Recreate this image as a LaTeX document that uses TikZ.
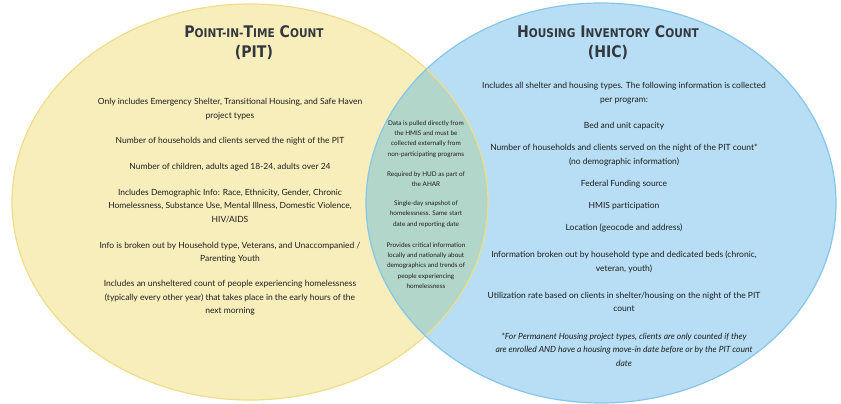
\documentclass[tikz,border=0pt]{standalone}
\usepackage{fontspec}
\setmainfont{Lato}
\newfontfamily\titlefont{DejaVu Sans}[FakeStretch=0.88]
\definecolor{yfill}{HTML}{F8EEBC}
\definecolor{yline}{HTML}{EFDD8A}
\definecolor{bfill}{HTML}{B7DEF4}
\definecolor{bline}{HTML}{86C6EA}
\definecolor{gfill}{HTML}{B3D6CA}
\definecolor{txt}{HTML}{1E1E1E}
\definecolor{ttl}{HTML}{33373F}
\newcommand\tcap[2]{{\fontsize{16}{20}\selectfont #1}{\fontsize{12}{20}\selectfont #2}}
\tikzset{
  ttlbox/.style={align=center, text=ttl, font=\titlefont\bfseries\fontsize{16}{20}\selectfont, inner sep=0pt},
  body/.style={align=center, text=txt, font=\fontsize{8.5}{13.5}\selectfont, inner sep=0pt},
  mid/.style={align=center, text=txt, font=\fontsize{6.4}{10.3}\selectfont, inner sep=0pt}
}
\begin{document}
\begin{tikzpicture}[x=1pt,y=-1pt]
\useasboundingbox (0,0) rectangle (841,404);
\fill[white] (0,0) rectangle (841,404);
% circles
\fill[yfill] (250,202) ellipse [x radius=238pt, y radius=198pt];
\fill[bfill] (601,203) ellipse [x radius=235pt, y radius=200pt];
\begin{scope}
  \clip (250,202) ellipse [x radius=238pt, y radius=198pt];
  \fill[gfill] (601,203) ellipse [x radius=235pt, y radius=200pt];
\end{scope}
\draw[yline, line width=1.2pt] (250,202) ellipse [x radius=238pt, y radius=198pt];
\draw[bline, line width=1.2pt] (601,203) ellipse [x radius=235pt, y radius=200pt];
% titles
\node[ttlbox] (pitT) at (254,43) {\tcap{P}{OINT-IN-}\tcap{T}{IME} \tcap{C}{OUNT}\\(PIT)};
\node[ttlbox] (hicT) at (608,43) {\tcap{H}{OUSING} \tcap{I}{NVENTORY} \tcap{C}{OUNT}\\(HIC)};
% left
\node[body] (l1) at (230,109) {Only includes Emergency Shelter, Transitional Housing, and Safe Haven\\project types};
\node[body] (l2) at (230,141) {Number of households and clients served the night of the PIT};
\node[body] (l3) at (230,167) {Number of children, adults aged 18-24, adults over 24};
\node[body] (l4) at (230,206) {Includes Demographic Info: Race, Ethnicity, Gender, Chronic\\Homelessness, Substance Use, Mental Illness, Domestic Violence,\\HIV/AIDS};
\node[body] (l5) at (230,252.5) {Info is broken out by Household type, Veterans, and Unaccompanied /\\Parenting Youth};
\node[body] (l6) at (230,298) {Includes an unsheltered count of people experiencing homelessness\\(typically every other year) that takes place in the early hours of the\\next morning};
% middle
\node[mid] (m1) at (426,139) {Data is pulled directly from\\the HMIS and must be\\collected externally from\\non-participating programs};
\node[mid] (m2) at (426,179) {Required by HUD as part of\\the AHAR};
\node[mid] (m3) at (426,214) {Single-day snapshot of\\homelessness. Same start\\date and reporting date};
\node[mid] (m4) at (426,265.5) {Provides critical information\\locally and nationally about\\demographics and trends of\\people experiencing\\homelessness};
% right
\node[body] (r1) at (624,93) {Includes all shelter and housing types. The following information is collected\\per program:};
\node[body] (r2) at (624,126) {Bed and unit capacity};
\node[body] (r3) at (624,155) {Number of households and clients served on the night of the PIT count*\\(no demographic information)};
\node[body] (r4) at (624,184) {Federal Funding source};
\node[body] (r5) at (624,206) {HMIS participation};
\node[body] (r6) at (624,228) {Location (geocode and address)};
\node[body] (r7) at (624,262) {Information broken out by household type and dedicated beds (chronic,\\veteran, youth)};
\node[body] (r8) at (624,302) {Utilization rate based on clients in shelter/housing on the night of the PIT\\count};
\node[body, font=\itshape\fontsize{8.5}{13.5}\selectfont] (r9) at (624,349.5) {*For Permanent Housing project types, clients are only counted if they\\are enrolled AND have a housing move-in date before or by the PIT count\\date};
\end{tikzpicture}
\end{document}
